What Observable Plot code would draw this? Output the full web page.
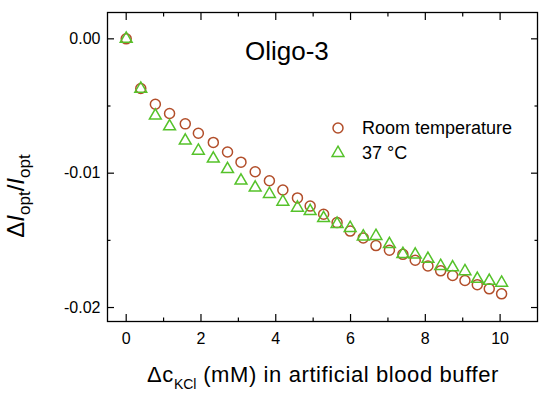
<!DOCTYPE html>
<html><head><meta charset="utf-8">
<script src="https://cdn.jsdelivr.net/npm/d3@7"></script>
<script src="https://cdn.jsdelivr.net/npm/@observablehq/plot@0.6"></script>
<style>body{margin:0;background:#fff} #chart svg{display:block}</style>
</head><body><div id="chart"></div>
<script>
// KCl concentration increments (mM)
const kcl = [0, 0.39, 0.78, 1.16, 1.58, 1.93, 2.33, 2.71, 3.07, 3.45, 3.83, 4.19, 4.58, 4.92, 5.28, 5.64, 5.99, 6.34, 6.68, 7.04, 7.40, 7.73, 8.07, 8.41, 8.73, 9.06, 9.39, 9.71, 10.04];
// ΔI/I at room temperature
const roomTemp = [0, -0.00370, -0.00487, -0.00556, -0.00633, -0.00703, -0.00771, -0.00842, -0.00918, -0.00989, -0.01056, -0.01125, -0.01184, -0.01245, -0.01306, -0.01368, -0.01431, -0.01482, -0.01539, -0.01574, -0.01604, -0.01648, -0.01691, -0.01727, -0.01762, -0.01799, -0.01830, -0.01861, -0.01898];
// ΔI/I at 37 °C
const temp37 = [0, -0.00372, -0.00572, -0.00652, -0.00758, -0.00833, -0.00892, -0.00970, -0.01056, -0.01108, -0.01155, -0.01213, -0.01257, -0.01283, -0.01335, -0.01378, -0.01408, -0.01472, -0.01468, -0.01528, -0.01602, -0.01606, -0.01638, -0.01691, -0.01701, -0.01730, -0.01787, -0.01802, -0.01816];
const seriesNames = ["Room temperature", "37 °C"];
const xMajorTicks = [0, 2, 4, 6, 8, 10];
const xMinorTicks = [1, 3, 5, 7, 9];
const yMajorTicks = [0, -0.01, -0.02];
const yMinorTicks = [-0.005, -0.015];
const panelTitle = "Oligo-3";

const font = "'Liberation Sans', Arial, sans-serif";
const cRoom = "#b24e2a", c37 = "#55c22a";
const rC = 5, rT = 4.4, sw = 1.5;

const rows = kcl.map((x, i) => ({x, room: roomTemp[i], t37: temp37[i]}));

const ax = {label: null, stroke: "#000", strokeWidth: 1.2};
const blank = () => "";
const plot = Plot.plot({
  width: 550, height: 395,
  marginLeft: 107, marginRight: 13, marginTop: 12, marginBottom: 74,
  style: {fontFamily: font, fontSize: "16px", color: "#000", background: "#fff"},
  x: {domain: [-0.5, 11]},
  y: {domain: [-0.02104, 0.00196]},
  marks: [
    Plot.dot(rows, {x: "x", y: "room", symbol: "circle", r: rC, stroke: cRoom, strokeWidth: sw, fill: "none"}),
    Plot.dot(rows, {x: "x", y: "t37", symbol: "triangle", r: rT, stroke: c37, strokeWidth: sw, fill: "none"}),
    Plot.axisX({...ax, ticks: xMajorTicks, anchor: "bottom", tickSize: -7, tickPadding: 18, tickFormat: d => String(d), fill: "#000"}),
    Plot.axisX({...ax, ticks: xMajorTicks, anchor: "top", tickSize: -7, tickFormat: blank}),
    Plot.axisX({...ax, ticks: xMinorTicks, anchor: "bottom", tickSize: -3.5, tickFormat: blank}),
    Plot.axisX({...ax, ticks: xMinorTicks, anchor: "top", tickSize: -3.5, tickFormat: blank}),
    Plot.axisY({...ax, ticks: yMajorTicks, anchor: "left", tickSize: -7, tickPadding: 14, tickFormat: d => d.toFixed(2), fill: "#000"}),
    Plot.axisY({...ax, ticks: yMajorTicks, anchor: "right", tickSize: -7, tickFormat: blank}),
    Plot.axisY({...ax, ticks: yMinorTicks, anchor: "left", tickSize: -3.5, tickFormat: blank}),
    Plot.axisY({...ax, ticks: yMinorTicks, anchor: "right", tickSize: -3.5, tickFormat: blank}),
    Plot.frame({stroke: "#000", strokeWidth: 1.3})
  ]
});
document.getElementById("chart").appendChild(plot);

const svg = d3.select(plot);
// panel title
svg.append("text").attr("x", 245).attr("y", 60).attr("text-anchor", "start").attr("font-size", 26).attr("font-family", font).attr("fill", "#000").text(panelTitle);

// legend
const lg = svg.append("g").attr("font-family", font).attr("font-size", 18).attr("fill", "#000").attr("text-anchor", "start");
lg.append("circle").attr("cx", 338).attr("cy", 128).attr("r", rC).attr("fill", "none").attr("stroke", cRoom).attr("stroke-width", sw);
lg.append("path").attr("transform", "translate(338,153)").attr("d", d3.symbol(d3.symbolTriangle, rT * rT * Math.PI)()).attr("fill", "none").attr("stroke", c37).attr("stroke-width", sw);
lg.append("text").attr("x", 362).attr("y", 128).attr("dy", "0.35em").text(seriesNames[0]);
lg.append("text").attr("x", 362).attr("y", 153).attr("dy", "0.35em").text(seriesNames[1]);

// x axis label
const xl = svg.append("text").attr("x", 147).attr("y", 382).attr("text-anchor", "start").attr("font-family", font).attr("font-size", 22).attr("letter-spacing", "0.6px").attr("fill", "#000");
xl.append("tspan").text("Δc");
xl.append("tspan").attr("font-size", 14).attr("dy", 7).attr("letter-spacing", "0px").text("KCl");
xl.append("tspan").attr("dy", -7).text(" (mM) in artificial blood buffer");

// y axis label
const yl = svg.append("text").attr("transform", "translate(24,196) rotate(-90)").attr("text-anchor", "middle").attr("font-family", font).attr("font-size", 24).attr("fill", "#000");
yl.append("tspan").text("Δ");
yl.append("tspan").attr("font-style", "italic").text("I");
yl.append("tspan").attr("font-size", 17).attr("dy", 6).text("opt");
yl.append("tspan").attr("dy", -6).text("/");
yl.append("tspan").attr("font-style", "italic").text("I");
yl.append("tspan").attr("font-size", 17).attr("dy", 6).text("opt");
</script>
</body></html>
